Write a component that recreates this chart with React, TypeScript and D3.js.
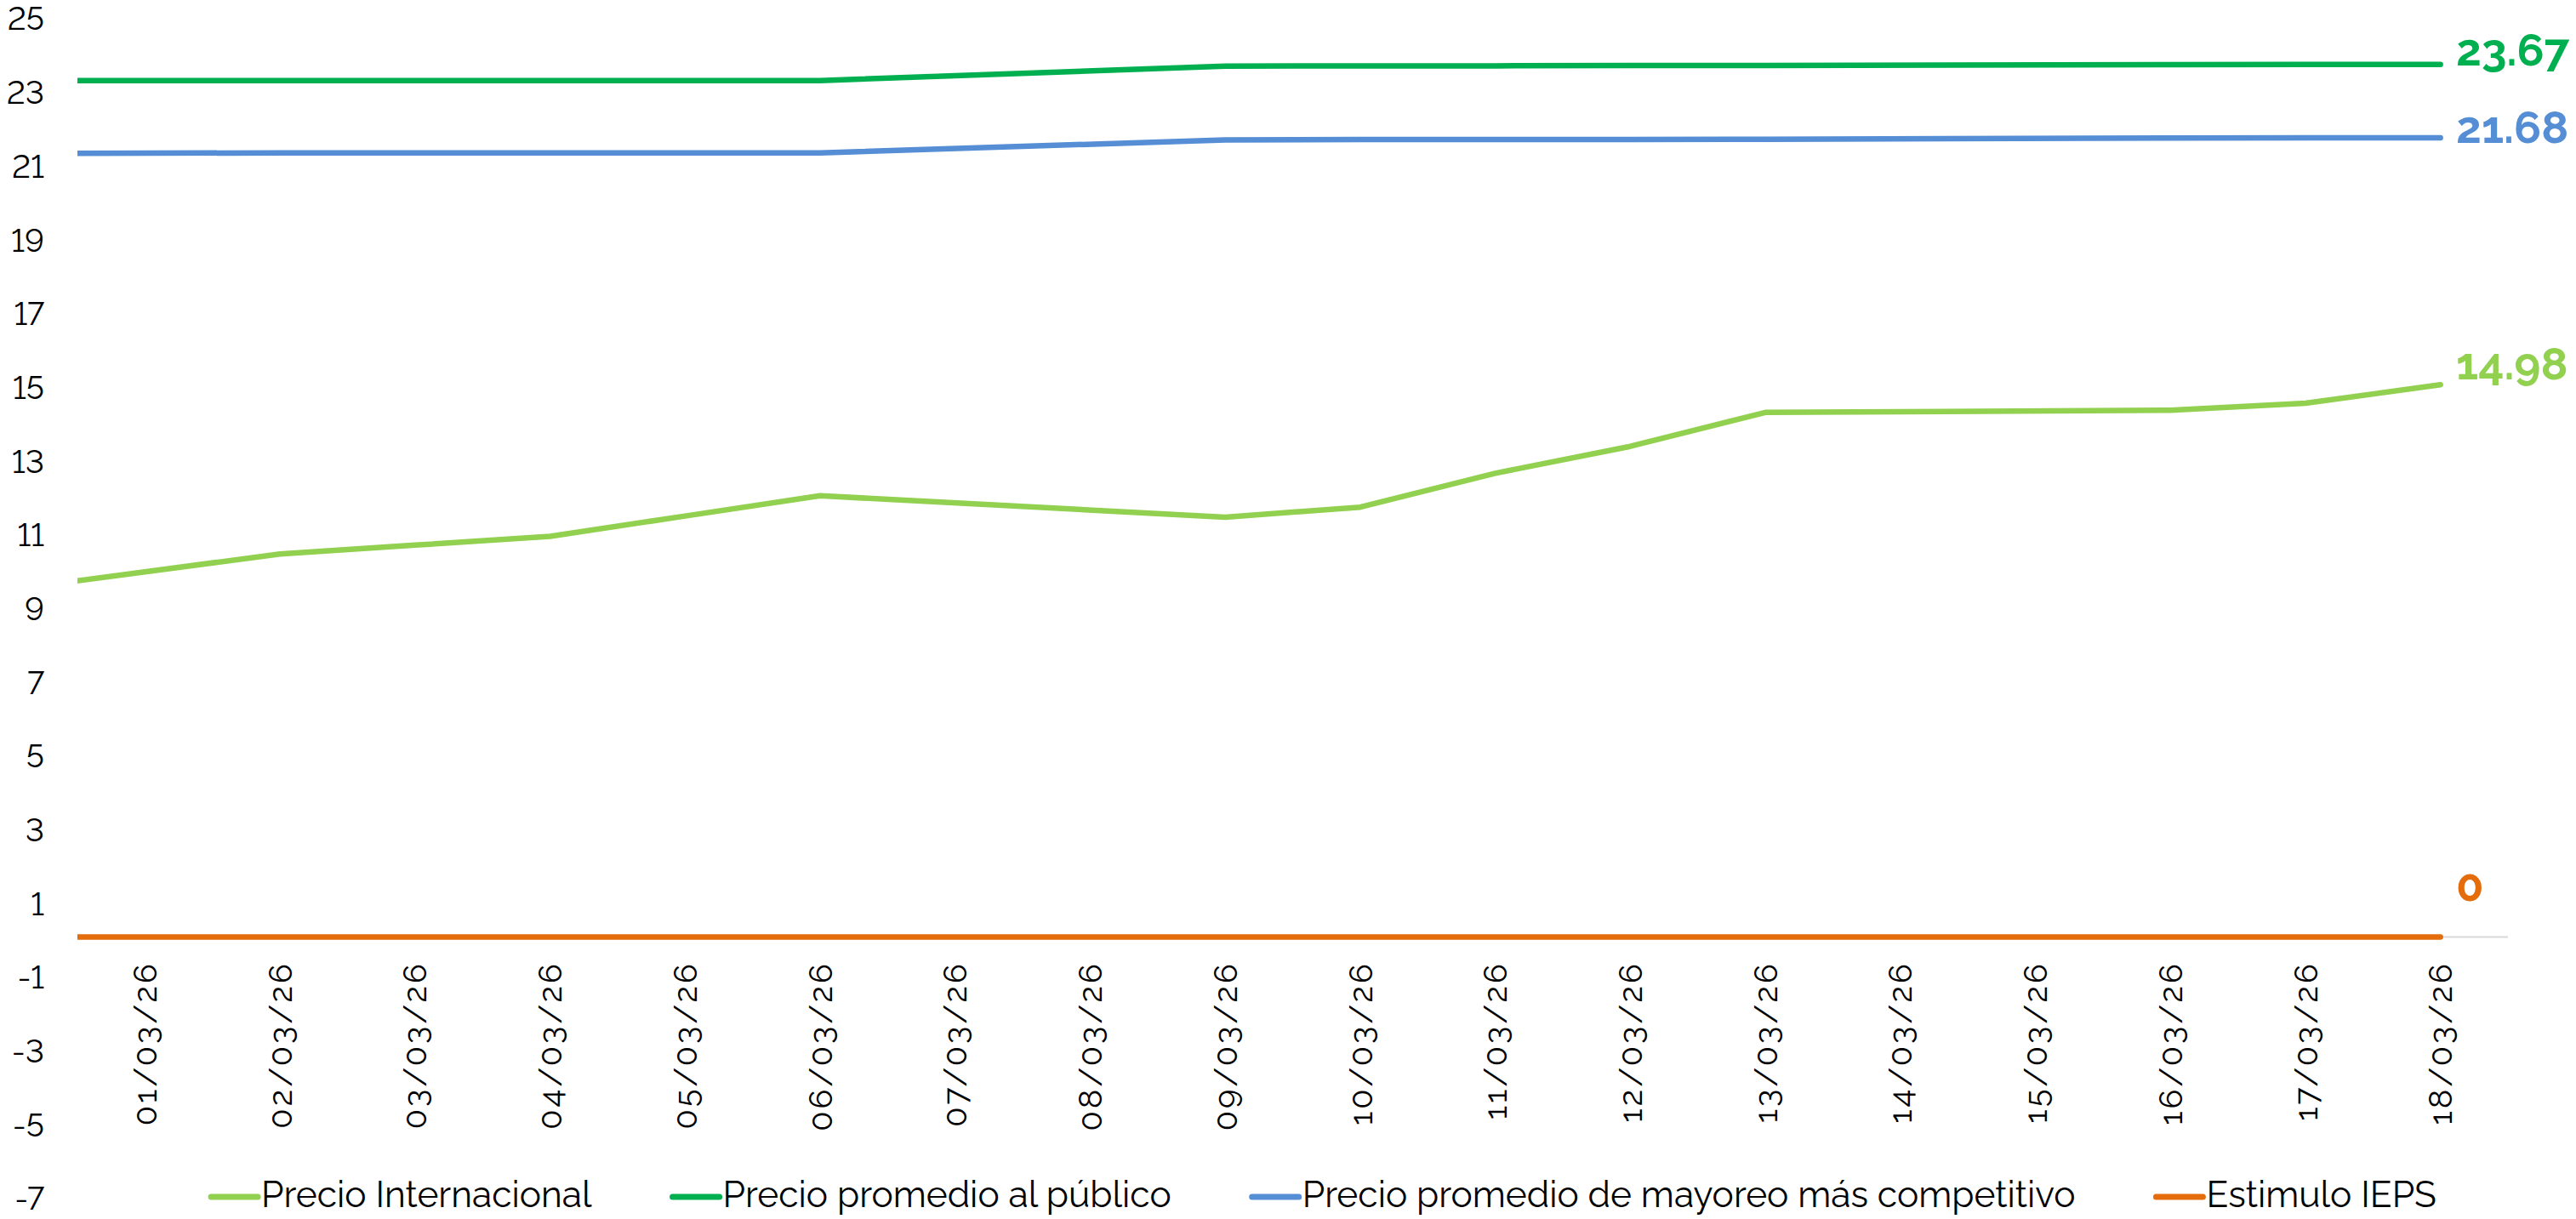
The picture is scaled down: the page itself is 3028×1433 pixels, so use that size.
import React, { useEffect, useRef } from 'react';
import * as d3 from 'd3';

// fechas con dato (el 27/02 queda fuera del eje, la línea se recorta en el borde)
const fechas = [
  '2026-02-27', '2026-03-01', '2026-03-02', '2026-03-03', '2026-03-04', '2026-03-05', '2026-03-06',
  '2026-03-07', '2026-03-08', '2026-03-09', '2026-03-10', '2026-03-11', '2026-03-12', '2026-03-13',
  '2026-03-14', '2026-03-15', '2026-03-16', '2026-03-17', '2026-03-18',
];

const etiquetasX = [
  '01/03/26', '02/03/26', '03/03/26', '04/03/26', '05/03/26', '06/03/26', '07/03/26', '08/03/26', '09/03/26',
  '10/03/26', '11/03/26', '12/03/26', '13/03/26', '14/03/26', '15/03/26', '16/03/26', '17/03/26', '18/03/26',
];

const precioInternacional = [8.94, null, 10.39, 10.63, 10.87, 11.42, 11.97, null, null, 11.39, 11.66, 12.58, 13.31, 14.23, null, null, 14.29, 14.48, 14.98];
const precioPublico = [23.23, null, 23.23, 23.23, 23.23, 23.23, 23.23, null, null, 23.62, 23.63, 23.63, 23.64, 23.64, null, null, 23.66, 23.67, 23.67];
const precioMayoreo = [21.24, null, 21.27, 21.27, 21.27, 21.27, 21.27, null, null, 21.62, 21.63, 21.63, 21.63, 21.64, null, null, 21.67, 21.68, 21.68];
const estimuloIEPS = [0, null, 0, 0, 0, 0, 0, null, null, 0, 0, 0, 0, 0, null, null, 0, 0, 0];

const nombres = ['Precio Internacional', 'Precio promedio al público', 'Precio promedio de mayoreo más competitivo', 'Estimulo IEPS'];
const ultimos = ['14.98', '23.67', '21.68', '0'];

const yTicks = [-7, -5, -3, -1, 1, 3, 5, 7, 9, 11, 13, 15, 17, 19, 21, 23, 25];

const W = 3028;
const H = 1433;
const FONT = 'Raleway, Lato, sans-serif';

const series = [
  { name: nombres[0], values: precioInternacional, color: '#92D050', label: ultimos[0], labelDy: -6 },
  { name: nombres[1], values: precioPublico, color: '#00B050', label: ultimos[1], labelDy: 1 },
  { name: nombres[2], values: precioMayoreo, color: '#558ED5', label: ultimos[2], labelDy: 6 },
  { name: nombres[3], values: estimuloIEPS, color: '#E46C0A', label: ultimos[3], labelDy: -43 },
];

export default function App() {
  const ref = useRef<SVGSVGElement>(null);

  useEffect(() => {
    if (!ref.current) return;
    const svg = d3.select(ref.current);
    svg.selectAll('*').remove();

    const parse = d3.utcParse('%Y-%m-%d');
    const dias = fechas.map(f => parse(f) as Date);
    const day = 86400000;
    const primero = parse('2026-03-01') as Date;
    const ultimo = parse('2026-03-18') as Date;

    const plot = { left: 91, right: 2948, top: 18, bottom: 1405 };

    const x = d3.scaleUtc()
      .domain([new Date(+primero - day / 2), new Date(+ultimo + day / 2)])
      .range([plot.left, plot.right]);
    const y = d3.scaleLinear().domain([-7, 25]).range([plot.bottom, plot.top]);

    svg.append('rect').attr('width', W).attr('height', H).attr('fill', '#fff');

    svg.append('defs').append('clipPath').attr('id', 'plotClip')
      .append('rect')
      .attr('x', plot.left).attr('y', 0)
      .attr('width', W - plot.left).attr('height', H);

    // Y axis labels (lining figures)
    svg.append('g').selectAll('text').data(yTicks).join('text')
      .attr('x', 52).attr('y', d => y(d)).attr('dy', '0.46em')
      .attr('text-anchor', 'end')
      .attr('font-family', FONT).attr('font-size', 38).attr('fill', '#000')
      .style('font-variant-numeric', 'lining-nums')
      .text(d => d);

    // zero axis line
    svg.append('line')
      .attr('x1', plot.left).attr('x2', plot.right)
      .attr('y1', y(0)).attr('y2', y(0))
      .attr('stroke', '#D9D9D9').attr('stroke-width', 2);

    // x labels
    svg.append('g').selectAll('text').data(etiquetasX).join('text')
      .attr('transform', (_d, i) => `translate(${x(new Date(+primero + i * day))},1130) rotate(-90)`)
      .attr('dy', '0.36em')
      .attr('text-anchor', 'end')
      .attr('font-family', FONT).attr('font-size', 38).attr('letter-spacing', 3)
      .attr('fill', '#000')
      .text(d => d);

    const line = d3.line<[Date, number]>()
      .x(d => x(d[0]))
      .y(d => y(d[1]));

    const g = svg.append('g').attr('clip-path', 'url(#plotClip)');
    series.forEach(s => {
      const pts = dias.map((d, i) => [d, s.values[i]] as [Date, number | null])
        .filter(p => p[1] !== null) as [Date, number][];
      g.append('path').datum(pts)
        .attr('fill', 'none').attr('stroke', s.color).attr('stroke-width', 6.5)
        .attr('stroke-linecap', 'round').attr('stroke-linejoin', 'round')
        .attr('d', line);
    });

    // end labels
    series.forEach(s => {
      const lastIdx = s.values.length - 1;
      svg.append('text')
        .attr('x', 2887).attr('y', y(s.values[lastIdx] as number) + s.labelDy)
        .attr('font-family', FONT).attr('font-size', 53).attr('font-weight', 700)
        .attr('fill', s.color)
        .text(s.label);
    });

    // legend
    const leg = svg.append('g');
    const items = series.map(s => {
      const it = leg.append('g');
      it.append('line').attr('x1', 0).attr('x2', 55).attr('y1', 0).attr('y2', 0)
        .attr('stroke', s.color).attr('stroke-width', 7).attr('stroke-linecap', 'round');
      const t = it.append('text').attr('x', 59).attr('y', 12)
        .attr('font-family', FONT).attr('font-size', 42.5).attr('fill', '#000')
        .text(s.name);
      const w = 59 + (t.node() as SVGTextElement).getComputedTextLength();
      return { it, w };
    });
    const gap = 95;
    const total = d3.sum(items, d => d.w) + gap * (items.length - 1);
    let cx = 1556 - total / 2;
    items.forEach(d => {
      d.it.attr('transform', `translate(${cx},1407)`);
      cx += d.w + gap;
    });
  }, []);

  return (
    <svg ref={ref} width={W} height={H}
      style={{ position: 'absolute', left: 0, top: 0, display: 'block' }} />
  );
}
